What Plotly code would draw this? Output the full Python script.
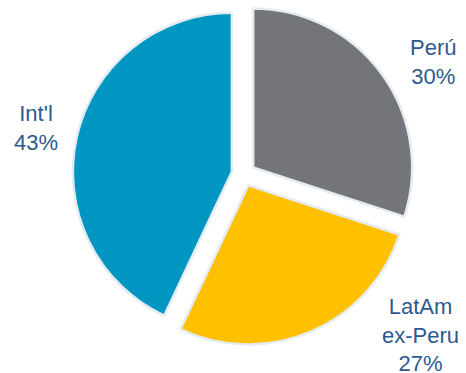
import plotly.graph_objects as go

labels = ["Perú", "LatAm<br>ex-Peru", "Int'l"]
values = [30, 27, 43]
colors = ["#747578", "#FFC000", "#0096C2"]
label_x = [0.930, 0.902, 0.077]
label_y = [0.834, 0.102, 0.657]

fig = go.Figure(go.Pie(
    labels=labels,
    values=values,
    sort=False,
    direction="clockwise",
    rotation=0,
    pull=[0.075, 0.075, 0.075],
    marker=dict(colors=colors, line=dict(color="#E4ECF2", width=2.5)),
    textinfo="none",
    hoverinfo="label+percent",
    showlegend=False,
    domain=dict(x=[0.1556, 0.8895], y=[0.074, 0.9906]),
))

total = sum(values)
for lab, v, x, y in zip(labels, values, label_x, label_y):
    fig.add_annotation(
        x=x, y=y, xref="paper", yref="paper",
        text=f"{lab}<br>{round(100 * v / total)}%",
        showarrow=False, xanchor="center", yanchor="middle",
        font=dict(family="Liberation Sans, Arial, sans-serif", size=22, color="#2D5A8E"),
    )

fig.update_layout(
    width=466, height=373,
    margin=dict(l=0, r=0, t=0, b=0),
    paper_bgcolor="white", plot_bgcolor="white",
)
fig.write_html("out.html")
